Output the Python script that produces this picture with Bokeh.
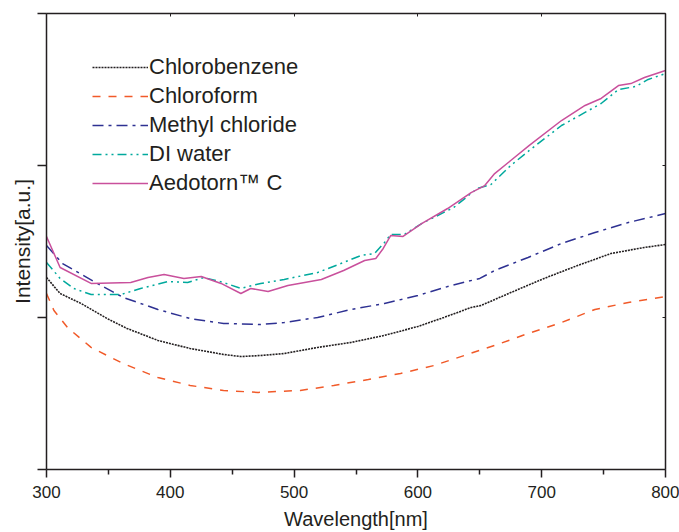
from bokeh.plotting import figure
from bokeh.models import Range1d, LinearAxis, Legend, LegendItem, FixedTicker
from bokeh.embed import file_html
from bokeh.resources import INLINE

# ---- data ----
wl_chlorobenzene = [300, 311, 328, 349, 365, 390, 416, 443, 457, 473, 492, 519, 546, 573, 600, 621, 643, 651, 675, 702, 729, 756, 783, 800]
chlorobenzene = [1.263, 1.158, 1.092, 0.993, 0.928, 0.849, 0.796, 0.757, 0.743, 0.750, 0.763, 0.803, 0.836, 0.882, 0.941, 1.000, 1.066, 1.079, 1.164, 1.257, 1.342, 1.421, 1.461, 1.480]

wl_chloroform = [300, 306, 317, 336, 362, 390, 416, 443, 471, 505, 532, 560, 586, 613, 640, 662, 689, 716, 743, 770, 800]
chloroform = [1.158, 1.046, 0.934, 0.803, 0.697, 0.605, 0.553, 0.520, 0.507, 0.520, 0.553, 0.592, 0.632, 0.684, 0.757, 0.816, 0.895, 0.967, 1.053, 1.099, 1.138]

wl_methyl = [300, 313, 341, 362, 390, 416, 443, 473, 492, 519, 546, 573, 600, 627, 650, 662, 689, 716, 743, 770, 800]
methyl_chloride = [1.474, 1.355, 1.224, 1.132, 1.053, 0.993, 0.961, 0.954, 0.967, 1.000, 1.053, 1.092, 1.145, 1.211, 1.257, 1.309, 1.395, 1.487, 1.559, 1.625, 1.684]

wl_water = [300, 311, 322, 336, 360, 376, 398, 414, 427, 443, 457, 473, 492, 519, 540, 554, 565, 573, 578, 589, 603, 629, 648, 659, 675, 690, 716, 735, 748, 762, 776, 786, 800]
di_water = [1.362, 1.257, 1.191, 1.151, 1.151, 1.191, 1.237, 1.230, 1.263, 1.230, 1.191, 1.224, 1.250, 1.296, 1.362, 1.408, 1.421, 1.493, 1.546, 1.546, 1.618, 1.724, 1.849, 1.875, 2.000, 2.099, 2.263, 2.349, 2.408, 2.500, 2.520, 2.566, 2.605]

wl_aedotorn = [300, 311, 336, 368, 382, 395, 411, 425, 441, 457, 465, 479, 495, 522, 540, 557, 566, 572, 578, 588, 603, 624, 643, 654, 662, 675, 690, 716, 735, 748, 762, 772, 783, 800]
aedotorn = [1.533, 1.329, 1.224, 1.230, 1.263, 1.283, 1.257, 1.270, 1.224, 1.158, 1.191, 1.171, 1.211, 1.250, 1.309, 1.375, 1.388, 1.454, 1.539, 1.533, 1.618, 1.717, 1.822, 1.868, 1.947, 2.033, 2.132, 2.296, 2.395, 2.441, 2.526, 2.539, 2.579, 2.625]

x_ticks = [300, 400, 500, 600, 700, 800]
x_minor = [350, 450, 550, 650, 750]
y_ticks = [0, 1, 2, 3]

TXT = "#231f20"
FONT = "Liberation Sans"

p = figure(width=679, height=532, output_backend="svg", toolbar_location=None,
           x_range=Range1d(300, 800), y_range=Range1d(0, 3),
           min_border_left=46, min_border_right=14, min_border_top=13, min_border_bottom=63,
           x_axis_location=None, y_axis_location=None)
p.grid.visible = False
p.outline_line_color = None
p.background_fill_color = "white"
p.border_fill_color = "white"

# bottom axis
xa = LinearAxis(ticker=FixedTicker(ticks=x_ticks, minor_ticks=x_minor),
                axis_label="Wavelength[nm]")
xa.axis_line_color = TXT
xa.axis_line_width = 1.5
xa.major_tick_line_color = TXT
xa.major_tick_line_width = 1.5
xa.major_tick_out = 8
xa.major_tick_in = 0
xa.minor_tick_line_color = TXT
xa.minor_tick_line_width = 1.5
xa.minor_tick_out = 5
xa.minor_tick_in = 0
xa.major_label_text_font = FONT
xa.major_label_text_font_size = "17px"
xa.major_label_text_color = TXT
xa.major_label_standoff = 8
xa.axis_label_text_font = FONT
xa.axis_label_text_font_size = "20px"
xa.axis_label_text_font_style = "normal"
xa.axis_label_text_color = TXT
xa.axis_label_standoff = 7
p.add_layout(xa, "below")

# left axis
ya = LinearAxis(ticker=FixedTicker(ticks=y_ticks, minor_ticks=[]),
                axis_label="Intensity[a.u.]",
                major_label_overrides={0: "", 1: "", 2: "", 3: ""})
ya.axis_line_color = TXT
ya.axis_line_width = 1.5
ya.major_tick_line_color = TXT
ya.major_tick_line_width = 1.5
ya.major_tick_out = 9
ya.major_tick_in = 0
ya.major_label_standoff = 0
ya.axis_label_text_font = FONT
ya.axis_label_text_font_size = "21px"
ya.axis_label_text_font_style = "normal"
ya.axis_label_text_color = TXT
ya.axis_label_standoff = 4
p.add_layout(ya, "left")

# top and right frame axes
ta = LinearAxis(ticker=FixedTicker(ticks=x_ticks, minor_ticks=x_minor),
                major_label_overrides={t: "" for t in x_ticks})
ta.axis_line_color = TXT
ta.axis_line_width = 1.5
ta.major_tick_out = 0
ta.major_tick_in = 3
ta.major_tick_line_color = TXT
ta.minor_tick_out = 0
ta.minor_tick_in = 0
ta.major_label_standoff = 0
ta.major_label_text_font_size = "1px"
p.add_layout(ta, "above")

ra = LinearAxis(ticker=FixedTicker(ticks=y_ticks, minor_ticks=[]),
                major_label_overrides={0: "", 1: "", 2: "", 3: ""})
ra.axis_line_color = TXT
ra.axis_line_width = 1.5
ra.major_tick_out = 0
ra.major_tick_in = 3
ra.major_tick_line_color = TXT
ra.major_label_standoff = 0
ra.major_label_text_font_size = "1px"
p.add_layout(ra, "right")

r1 = p.line(wl_chlorobenzene, chlorobenzene, line_color="#231f20", line_width=1.6, line_dash="2 1")
r2 = p.line(wl_chloroform, chloroform, line_color="#f15a29", line_width=1.5, line_dash="8 8")
r3 = p.line(wl_methyl, methyl_chloride, line_color="#2e3192", line_width=1.5, line_dash="11 5 3 5")
r4 = p.line(wl_water, di_water, line_color="#00a99d", line_width=1.5, line_dash="9 4 2 4 2 4")
r5 = p.line(wl_aedotorn, aedotorn, line_color="#c9509c", line_width=1.5)

legend = Legend(items=[
    LegendItem(label="Chlorobenzene", renderers=[r1]),
    LegendItem(label="Chloroform", renderers=[r2]),
    LegendItem(label="Methyl chloride", renderers=[r3]),
    LegendItem(label="DI water", renderers=[r4]),
    LegendItem(label="Aedotorn\u2122 C", renderers=[r5]),
], location=(46, 273))
legend.border_line_alpha = 0
legend.background_fill_alpha = 0
legend.padding = 0
legend.margin = 0
legend.spacing = 3
legend.glyph_width = 56
legend.glyph_height = 20
legend.label_standoff = 1
legend.label_height = 20
legend.label_text_font = FONT
legend.label_text_font_size = "22px"
legend.label_text_color = TXT
legend.label_text_baseline = "middle"
p.add_layout(legend, "center")

open("out.html", "w").write(file_html(p, INLINE))
